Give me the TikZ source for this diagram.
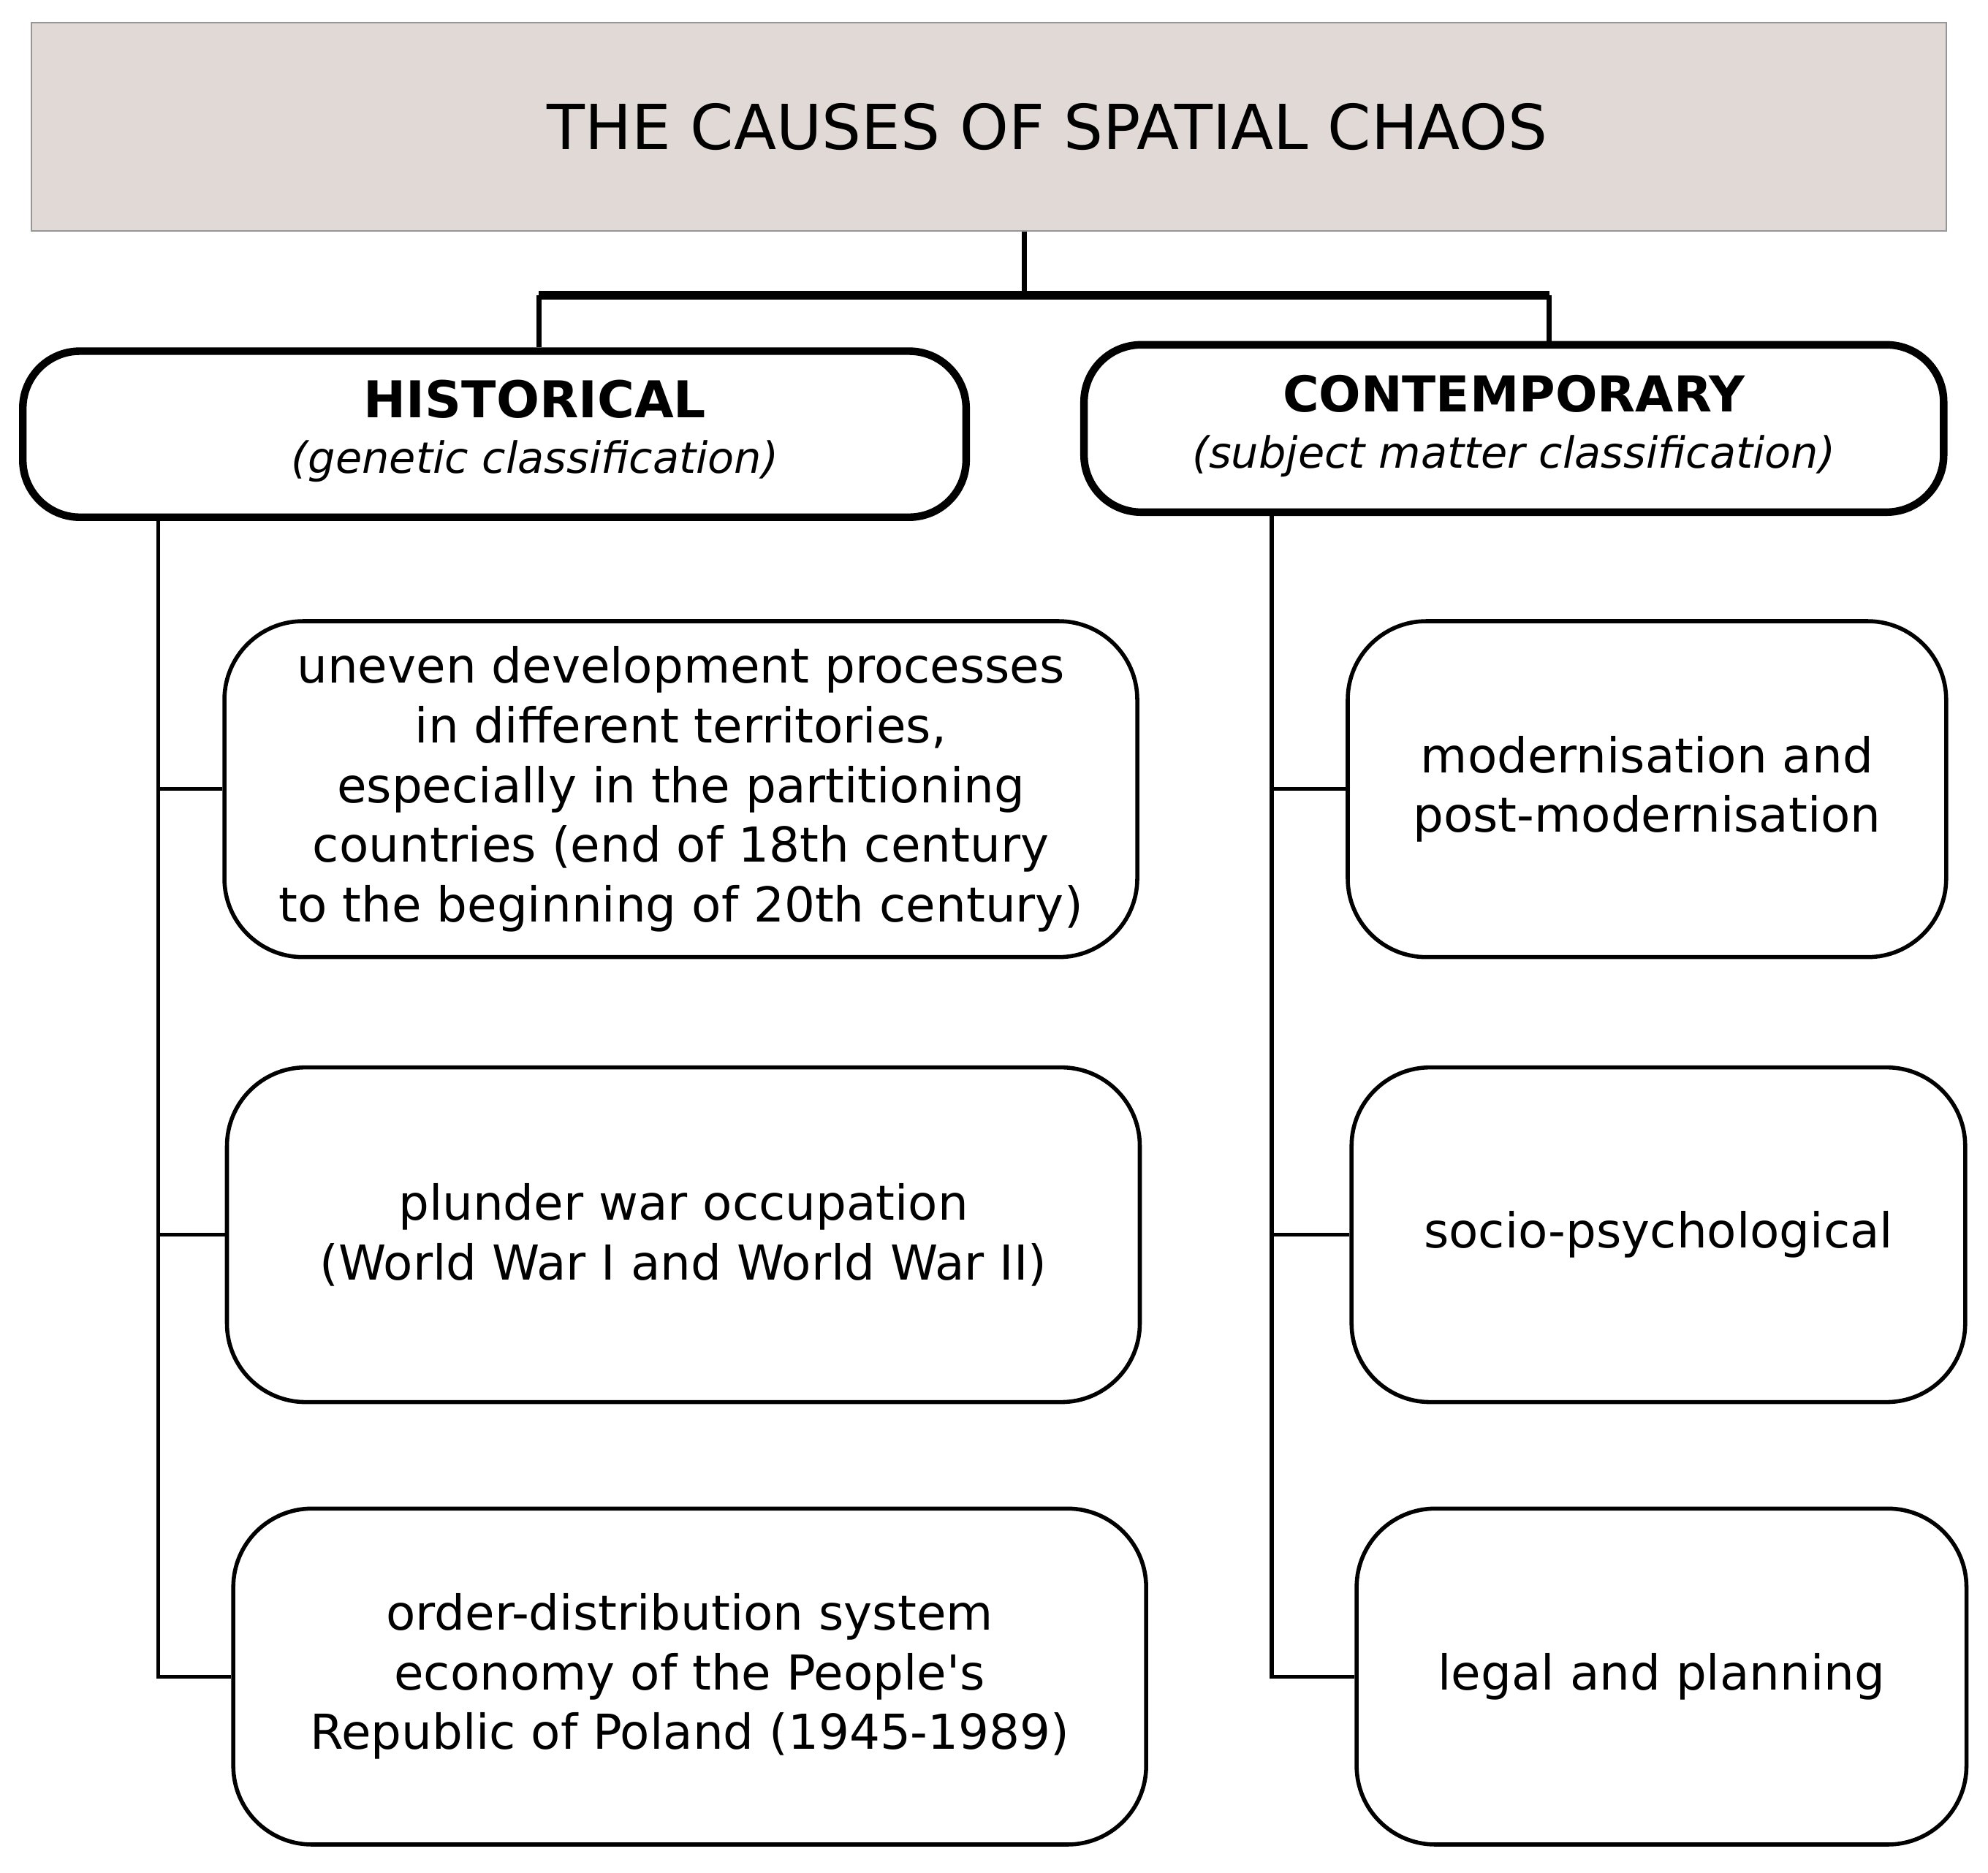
\documentclass[tikz,border=0pt]{standalone}
\usepackage{fontspec}
\setmainfont{DejaVu Sans}[Ligatures=TeXOff]
\definecolor{titlefill}{RGB}{224,217,213}
\definecolor{titleline}{RGB}{150,150,150}
\begin{document}
\begin{tikzpicture}[x=1pt,y=-1pt,
  titlebox/.style={draw=titleline, line width=1.2pt, fill=titlefill, minimum width=1510pt, minimum height=164pt, inner sep=0pt},
  titletext/.style={inner sep=0pt, font=\fontsize{49}{58}\selectfont},
  headbox/.style={draw, line width=6pt, rounded corners=45pt, inner sep=0pt},
  headtext/.style={align=center, inner sep=0pt, font=\fontsize{34}{44}\selectfont},
  itembox/.style={draw, line width=3.2pt, rounded corners=62pt, align=center, inner sep=0pt, font=\fontsize{38}{47}\selectfont},
  link/.style={line width=3pt},
  toplink/.style={line width=4pt},
  topbar/.style={line width=7pt}]
\useasboundingbox (0,0) rectangle (1568,1477.4);
\fill[white] (0,0) rectangle (1568,1477.4);

\node[titlebox] (title) at (780,100) {};
\node[titletext] (titletxt) at (826,100) {THE CAUSES OF SPATIAL CHAOS};

\node[headbox, minimum width=744pt, minimum height=131pt] (hist) at (390,342.5) {};
\node[headtext] (histtext) at (422,340) {{\fontsize{40}{44}\selectfont\bfseries HISTORICAL}\\\itshape (genetic classification)};
\node[headbox, minimum width=678pt, minimum height=132pt] (cont) at (1194,338) {};
\node[headtext] (conttext) at (1194,336) {{\fontsize{39}{44}\selectfont\bfseries CONTEMPORARY}\\\itshape (subject matter classification)};

\node[itembox, minimum width=720pt, minimum height=265pt] (h1) at (537,622.5) {uneven development processes\\in different territories,\\especially in the partitioning\\countries (end of 18th century\\to the beginning of 20th century)};
\node[itembox, minimum width=720pt, minimum height=264pt] (h2) at (539,974) {plunder war occupation\\(World War I and World War II)};
\node[itembox, minimum width=720pt, minimum height=265pt] (h3) at (544,1322.5) {order-distribution system\\economy of the People's\\Republic of Poland (1945-1989)};

\node[itembox, minimum width=472pt, minimum height=265pt] (c1) at (1299,622.5) {modernisation and\\post-modernisation};
\node[itembox, minimum width=484pt, minimum height=264pt] (c2) at (1308,974) {socio-psychological};
\node[itembox, minimum width=481pt, minimum height=265pt] (c3) at (1310.5,1322.5) {legal and planning};

\coordinate (j) at (808,233);
\coordinate (hj) at (425,233);
\coordinate (cj) at (1222,233);
\coordinate (ls) at (125,408);
\coordinate (rs) at (1003,404);

\draw[toplink] (title.south -| j) -- (j);
\draw[topbar] (hj) -- (cj);
\draw[toplink] (hj) -- (hj |- hist.north);
\draw[toplink] (cj) -- (cj |- cont.north);

\draw[link] (ls |- hist.south) -- (ls |- h3.west) -- (h3.west);
\draw[link] (ls |- h1.west) -- (h1.west);
\draw[link] (ls |- h2.west) -- (h2.west);

\draw[link] (rs |- cont.south) -- (rs |- c3.west) -- (c3.west);
\draw[link] (rs |- c1.west) -- (c1.west);
\draw[link] (rs |- c2.west) -- (c2.west);
\end{tikzpicture}
\end{document}
